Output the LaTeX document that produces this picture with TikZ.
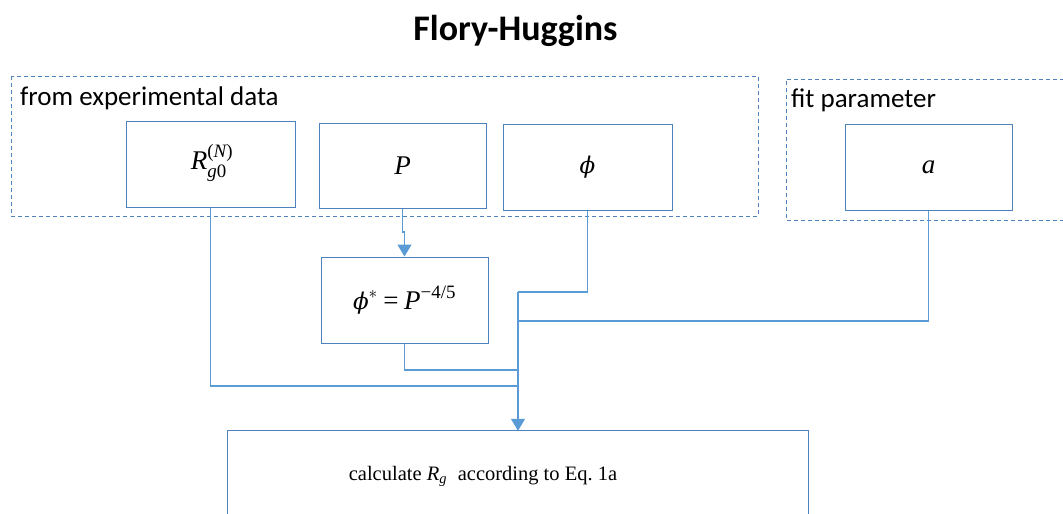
\documentclass[tikz,border=0pt]{standalone}
\usepackage{amsmath}
\usepackage{fontspec}
\setmainfont{Carlito}
\newfontfamily\serifrm{Liberation Serif}
\newfontfamily\phifont{DejaVu Serif}
\newcommand\ti[1]{\text{\serifrm\itshape #1}}
\newcommand\tr[1]{\text{\serifrm #1}}
\newcommand\vphi{\text{\phifont\itshape\fontsize{23}{26}\selectfont\char"03D5}}
\usetikzlibrary{arrows.meta}
\definecolor{boxcol}{RGB}{79,129,189}
\definecolor{linecol}{RGB}{91,155,213}
\tikzset{
  mbox/.style={draw=boxcol, line width=1pt, minimum width=#1, inner sep=0pt, font=\fontsize{27}{30}\selectfont},
  mbox/.default=168pt,
  grp/.style={draw=boxcol, dashed, dash pattern=on 4pt off 3pt, line width=1pt},
  conn/.style={draw=linecol, line width=1.3pt},
  arr/.style={conn, -{Triangle[width=14pt,length=12pt]}},
  lbl/.style={anchor=base west, inner sep=0pt, font=\fontsize{27}{30}\selectfont}
}
\begin{document}
\begin{tikzpicture}[x=1pt,y=-1pt]
\useasboundingbox (0,0) rectangle (1063,514);
% title
\node[anchor=base, inner sep=0pt, font=\fontsize{36}{40}\selectfont\bfseries] (title) at (515.5,40) {Flory-Huggins};
% groups
\draw[grp] (11,76) rectangle (758,216);
\node[lbl] (lexp) at (20,105) {from experimental data};
\draw[grp] (1064,79) -- (786,79) -- (786,220) -- (1064,220);
\node[lbl] (lfit) at (791,107) {fit parameter};
% boxes
\node[draw=boxcol, line width=1pt, minimum width=169pt, minimum height=86pt] (R) at (210.5,164) {};
\node[anchor=center, inner sep=0pt, font=\fontsize{27}{30}\selectfont] (Rt) at (212,163) {$\ti{R}_{\ti{g}\tr{0}}^{\tr{(}\ti{N}\tr{)}}$};
\node[mbox=167pt, minimum height=85pt] (P) at (402.5,166) {$\ti{P}$};
\node[mbox=169pt, minimum height=86pt] (phi) at (587.5,167) {$\vphi$};
\node[mbox=167pt, minimum height=86pt] (a) at (928.5,167) {$\ti{a}$};
\node[mbox=167pt, minimum height=86pt] (star) at (404.5,300) {$\vphi^{*}\mathbin{\tr{=}}\ti{P}^{\tr{\char"2212 4/5}}$};
\node[minimum width=580pt, minimum height=90pt, inner sep=0pt] (calc) at (518,476) {};
\node[anchor=base, inner sep=0pt, font=\serifrm\fontsize{20.5}{24}\selectfont] (calct) at (483,480) {calculate $\ti{R}_{\ti{g}}$\; according to Eq.\ 1a};
\draw[draw=boxcol, line width=1pt] (calc.south west) -- (calc.north west) -- (calc.north east) -- (calc.south east);
% junctions
\coordinate (jPhi) at (518,292);
\coordinate (jA) at (518,321);
\coordinate (jS) at (518,370);
\coordinate (jR) at (518,386);
\coordinate (pk) at (402.5,232);
% connectors
\draw[arr] (P.south) -- (pk) -| (star.north);
\draw[conn] (R.south) |- (jR);
\draw[conn] (star.south) |- (jS);
\draw[conn] (phi.south) |- (jPhi);
\draw[conn] (a.south) |- (jA);
\draw[arr] (jPhi) -- (calc.north);
\end{tikzpicture}
\end{document}
